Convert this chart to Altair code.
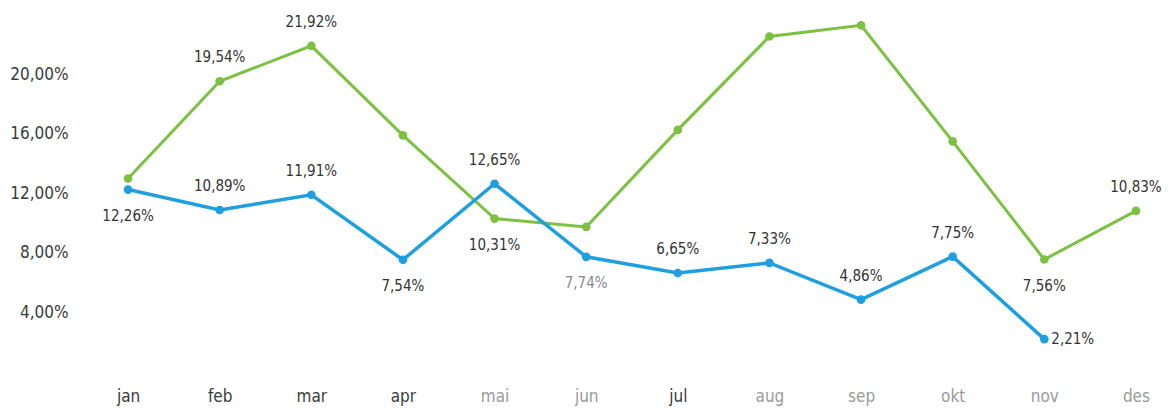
import altair as alt
import pandas as pd

months = ["jan", "feb", "mar", "apr", "mai", "jun", "jul", "aug", "sep", "okt", "nov", "des"]
green = [13.0, 19.54, 21.92, 15.9, 10.31, 9.75, 16.27, 22.55, 23.3, 15.5, 7.56, 10.83]
blue = [12.26, 10.89, 11.91, 7.54, 12.65, 7.74, 6.65, 7.33, 4.86, 7.75, 2.21, None]
green_label_pos = [None, "above", "above", None, "below", None, None, None, None, None, "below", "above"]
blue_label_pos = ["below", "above", "above", "below", "above", "below", "above", "above", "above", "above", "right", None]
dark_months = ["jan", "feb", "mar", "apr", "jul"]

GREEN = "#7cc142"
BLUE = "#1e9fe0"
FONT = "DejaVu Sans Condensed, DejaVu Sans, sans-serif"

rows = []
for s, vals, pos in (("green", green, green_label_pos), ("blue", blue, blue_label_pos)):
    for m, v, p in zip(months, vals, pos):
        if v is None:
            continue
        txt = ("%.2f" % v).replace(".", ",") + "%"
        rows.append({"month": m, "series": s, "value": v, "pos": p or "none", "label": txt,
                     "lcolor": "#8a8a8a" if (s == "blue" and m == "jun") else "#333333"})
df = pd.DataFrame(rows)

x = alt.X("month:N", sort=months, scale=alt.Scale(domain=months, padding=0.35),
          axis=alt.Axis(title=None, domain=False, ticks=False, labelAngle=0, labelFont=FONT,
                        labelFontSize=17, labelPadding=16,
                        labelColor={"condition": {"test": "indexof(%s, datum.value) >= 0" % str(dark_months), "value": "#3a3a3a"}, "value": "#9a9a9a"}))
y = alt.Y("value:Q", scale=alt.Scale(domain=[0, 25], nice=False, zero=True),
          axis=alt.Axis(title=None, domain=False, ticks=False, grid=False, values=[4, 8, 12, 16, 20],
                        labelExpr="replace(format(datum.value, '.2f'), '.', ',') + '%'",
                        labelFont=FONT, labelFontSize=17, labelColor="#3a3a3a", labelPadding=28))

base = alt.Chart(df).encode(x=x, y=y)

layers = []
for s, c, w in (("green", GREEN, 3), ("blue", BLUE, 3.5)):
    layers.append(base.transform_filter(alt.datum.series == s).mark_line(color=c, strokeWidth=w))
    layers.append(base.transform_filter(alt.datum.series == s).mark_circle(color=c, size=75, opacity=1))

for p, kw in (("above", dict(dy=-24, align="center")), ("below", dict(dy=26, align="center")),
              ("right", dict(dx=7, align="left"))):
    layers.append(base.transform_filter(alt.datum.pos == p).mark_text(
        font=FONT, fontSize=15, baseline="middle", **kw).encode(
        text="label:N", color=alt.Color("lcolor:N", scale=None)))

chart = alt.layer(*layers).properties(
    width=1072, height=372,
    background="white",
    autosize=alt.AutoSizeParams(type="none"),
    padding={"left": 96, "top": 0, "right": 0, "bottom": 40},
).configure_view(strokeWidth=0, stroke=None)

chart.save("out.html", embed_options={"renderer": "svg", "actions": False})
